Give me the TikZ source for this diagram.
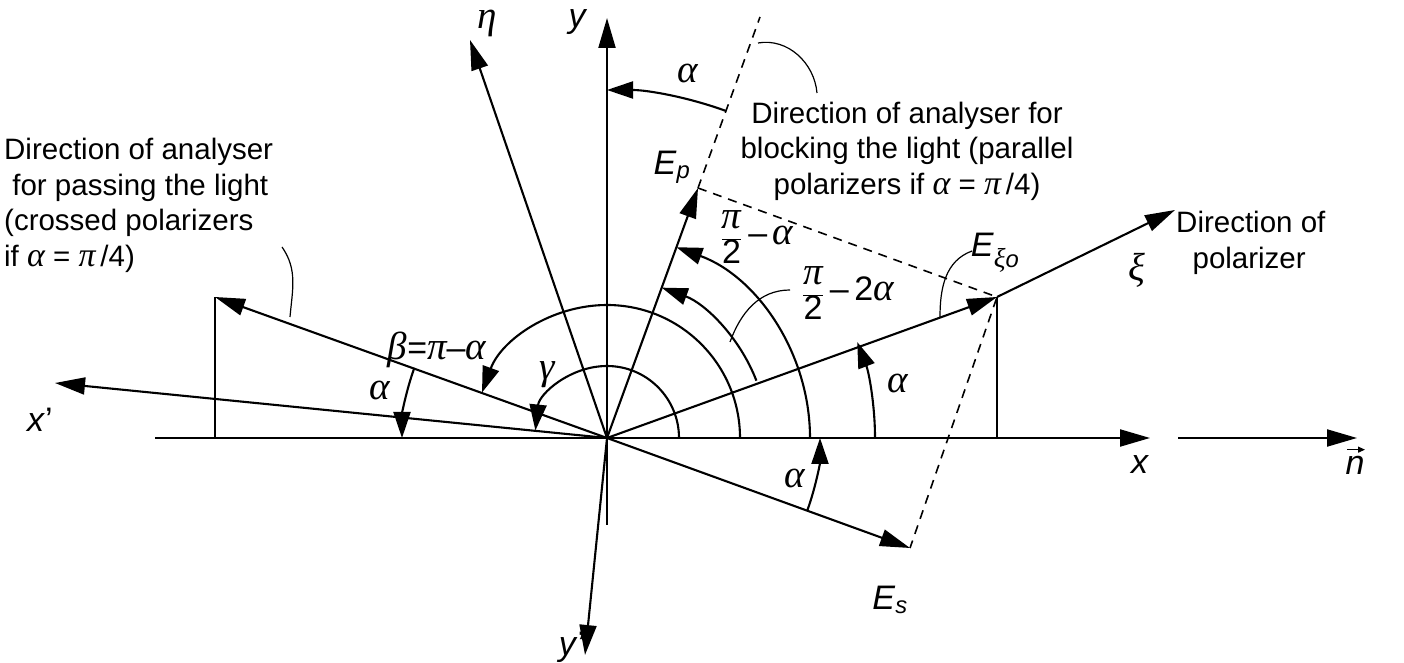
\documentclass[tikz,border=0pt]{standalone}
\usepackage{fontspec}
\setmainfont{Liberation Sans}
\newfontfamily\grf{Liberation Serif}[Scale=1.15]
\newcommand{\gk}[1]{{\grf\itshape #1}}
\newcommand{\fr}{\ensuremath{\displaystyle\frac{\hbox{\gk{π}}}{\hbox{2}}}}
\usetikzlibrary{arrows.meta}
\begin{document}
\begin{tikzpicture}[x=1pt,y=1pt,
  ln/.style={line width=2.1pt},
  thin/.style={line width=1.2pt},
  dsh/.style={line width=1.6pt,dash pattern=on 9pt off 7pt},
  ax/.style={ln,-{Triangle[length=30pt,width=17pt]}},
  ar/.style={ln,-{Triangle[length=26pt,width=17pt]}},
  lab/.style={font=\fontsize{34}{40}\selectfont,inner sep=0pt},
  txt/.style={font=\fontsize{29.5}{35.5}\selectfont,inner sep=0pt}]
\useasboundingbox (0,0) rectangle (1404,663);
\coordinate (O) at (607,225);
% axes
\coordinate (xl) at (155,225); \coordinate (xr) at (1150,225);
\coordinate (yb) at (607,138); \coordinate (yt) at (607,645);
\draw[ax] (xl) -- (xr);
\draw[ax] (yb) -- (yt);
\coordinate (n1) at (1178,225); \coordinate (n2) at (1357,225);
\draw[ax] (n1) -- (n2);
\coordinate (eta) at (470,623); \draw[ax] (O) -- (eta);
\coordinate (xp) at (55,280); \draw[ax] (O) -- (xp);
\coordinate (yp) at (585,8); \draw[ax] (O) -- (yp);
\coordinate (Exi) at (997,366); \coordinate (xi) at (1175,453);
\draw[ax] (O) -- (Exi); \draw[ax] (Exi) -- (xi);
\coordinate (Ep) at (698,475); \draw[ax] (O) -- (Ep);
\coordinate (Es) at (910,115); \draw[ax] (O) -- (Es);
\coordinate (An) at (215,366); \draw[ax] (O) -- (An);
\coordinate (Anb) at (215,225); \draw[thin] (An) -- (Anb);
\coordinate (Exb) at (997,225); \draw[thin] (Exi) -- (Exb);
% dashed
\coordinate (Dt) at (760,646);
\draw[dsh] (Ep) -- (Exi) -- (Es);
\draw[dsh] (Ep) -- (Dt);
% arcs
\draw[ar] ([shift={(0:72)}]O) arc[start angle=0,end angle=174,radius=72];
\draw[ar] ([shift={(0:133)}]O) arc[start angle=0,end angle=160,radius=133];
\draw[ar] ([shift={(0:203)}]O) arc[start angle=0,end angle=70,radius=203];
\draw[ar] ([shift={(21:160)}]O) arc[start angle=21,end angle=70,radius=160];
\draw[ar] ([shift={(0:268)}]O) arc[start angle=0,end angle=21,radius=268];
\draw[ar] ([shift={(160:205)}]O) arc[start angle=160,end angle=180,radius=205];
\draw[ar] ([shift={(-20:213)}]O) arc[start angle=-20,end angle=0,radius=213];
\draw[ar] ([shift={(70:348)}]O) arc[start angle=70,end angle=90,radius=348];
% leaders
\coordinate (L1a) at (758,620); \coordinate (L1b) at (817,570);
\draw[thin] (L1a) to[out=10,in=95] (L1b);
\coordinate (L2a) at (282,416); \coordinate (L2b) at (290,346);
\draw[thin] (L2a) to[out=-55,in=85] (L2b);
\coordinate (L3a) at (972,412); \coordinate (L3b) at (940,346);
\draw[thin] (L3a) to[out=200,in=90] (L3b);
\coordinate (L4a) at (790,373); \coordinate (L4b) at (730,321);
\draw[thin] (L4a) to[out=180,in=70] (L4b);
% labels
\node[lab] (lx) at (1140,198) {\textit{x}};
\node[lab] (ly) at (578,641) {\textit{y}};
\node[lab] (ln) at (1355,198) {\textit{n}};
\draw[thin,-{Triangle[length=7pt,width=6pt]}] ([xshift=-8pt,yshift=6pt]ln.north) -- ([xshift=10pt,yshift=6pt]ln.north);
\node[lab] (lxi) at (1137,393) {\gk{ξ}};
\node[lab] (leta) at (487,640) {\gk{η}};
\node[lab] (lxp) at (40,243) {\textit{x}'};
\node[lab] (lyp) at (572,16) {\textit{y}'};
\node[lab] (lEp) at (672,496) {\textit{E}\textsubscript{\textit{p}}};
\node[lab] (lEs) at (890,63) {\textit{E}\textsubscript{\textit{s}}};
\node[lab] (lEx) at (995,410) {\textit{E}\textsubscript{\gk{ξ}\textit{o}}};
\node[lab] (lb) at (437,313) {\gk{β}=\gk{π}–\gk{α}};
\node[lab] (lg) at (547,288) {\gk{γ}};
\node[lab] (la1) at (380,273) {\gk{α}};
\node[lab] (la2) at (898,280) {\gk{α}};
\node[lab] (la3) at (795,185) {\gk{α}};
\node[lab] (la4) at (688,590) {\gk{α}};
\node[lab] (lpa) at (757,426) {\fr\,–\,\gk{α}};
\node[lab] (lp2a) at (848,370) {\fr\,–\,2\gk{α}};
\node[txt,align=center] (tb) at (907,512) {Direction of analyser for\\blocking the light (parallel\\polarizers if \gk{α} = \gk{π}\,/4)};
\node[txt,align=left,anchor=north west] (tp) at (4,525) {Direction of analyser\\\ for passing the light\\(crossed polarizers\\if \gk{α} = \gk{π}\,/4)};
\node[txt,align=left,anchor=north west] (tz) at (1176,452) {Direction of\\\ \ polarizer};
\end{tikzpicture}
\end{document}
